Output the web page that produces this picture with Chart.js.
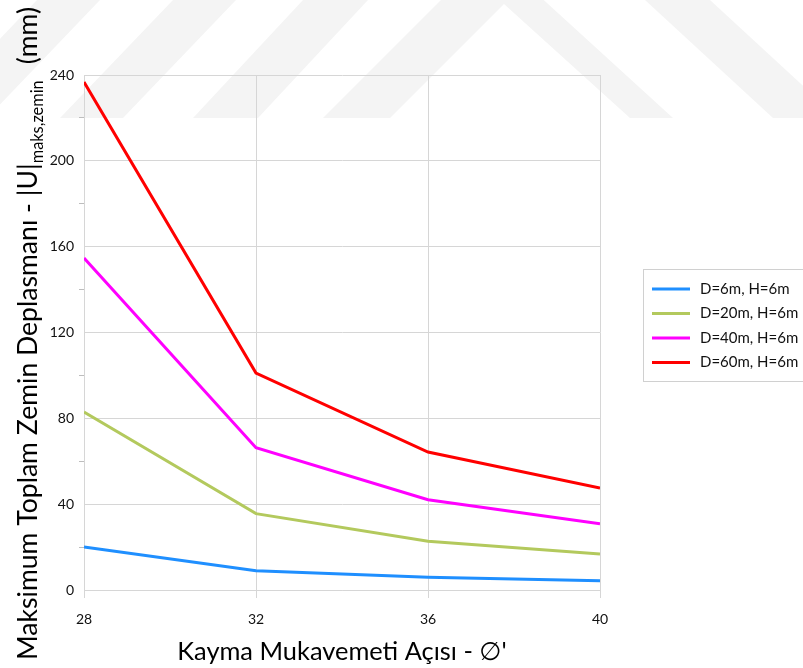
<!DOCTYPE html>
<html>
<head>
<meta charset="utf-8">
<script src="https://cdn.jsdelivr.net/npm/chart.js@4"></script>
<style>
  body { margin: 0; background: #fff; }
  #wrap { width: 803px; height: 668px; position: relative; }
</style>
</head>
<body>
<div id="wrap"><canvas id="graph"></canvas></div>
<script>
// values
const angles = [28, 32, 36, 40];
const d6 = [20.0, 9.0, 5.9, 4.3];
const d20 = [82.9, 35.6, 22.7, 16.8];
const d40 = [154.7, 66.3, 42.1, 30.9];
const d60 = [236.7, 101.1, 64.3, 47.5];
const seriesLabels = ['D=6m, H=6m', 'D=20m, H=6m', 'D=40m, H=6m', 'D=60m, H=6m'];
const seriesColors = ['#1f8fff', '#b3c95d', '#ff00ff', '#ff0000'];
const yTicks = [0, 40, 80, 120, 160, 200, 240];
const xTitle = "Kayma Mukavemeti Açısı - ∅'";
const yTitle = ['Maksimum Toplam Zemin Deplasmanı - |U|', 'maks,zemin', '(mm)'];

const FONT = 'Lato, "DejaVu Sans", sans-serif';
Chart.defaults.font.family = FONT;
Chart.defaults.color = '#111';

const gridGray = '#d6d6d6';

function toPoints(vals) {
    return vals.map((v, i) => ({x: angles[i], y: v}));
}

// size the x title so it spans about the same width as the reference
const measureCtx = document.createElement('canvas').getContext('2d');
measureCtx.font = '100px ' + FONT;
const xTitleSize = Math.round(330 / measureCtx.measureText(xTitle).width * 100 * 10) / 10;

const extras = {
    id: 'extras',
    beforeDraw(chart) {
        // faint watermark in the background
        const ctx = chart.ctx;
        const shapes = [
            [[37, 0], [100, 0], [-13, 118], [-76, 118]],
            [[173, 0], [236, 0], [123, 118], [60, 118]],
            [[303, 0], [368, 0], [258, 118], [193, 118]],
            [[323, 118], [490, -49], [673, 118], [630, 118], [504, 4], [390, 118]],
            [[645, 0], [710, 0], [838, 118], [773, 118]]
        ];
        ctx.save();
        ctx.fillStyle = '#f4f4f4';
        shapes.forEach(s => {
            ctx.beginPath();
            s.forEach((p, i) => i ? ctx.lineTo(p[0], p[1]) : ctx.moveTo(p[0], p[1]));
            ctx.closePath();
            ctx.fill();
        });
        ctx.restore();
    },
    afterDraw(chart) {
        const ctx = chart.ctx;

        // legend box
        ctx.save();
        ctx.strokeStyle = '#d0d0d0';
        ctx.lineWidth = 1;
        ctx.strokeRect(643.5, 269.5, 200, 112);
        ctx.font = '15px ' + FONT;
        ctx.textBaseline = 'middle';
        ctx.fillStyle = '#111';
        chart.data.datasets.forEach((ds, i) => {
            const y = 289 + i * 24.5;
            ctx.strokeStyle = ds.borderColor;
            ctx.lineWidth = 3;
            ctx.beginPath();
            ctx.moveTo(652, y);
            ctx.lineTo(690, y);
            ctx.stroke();
            ctx.fillText(ds.label, 700, y);
        });
        ctx.restore();

        // y title with subscript
        ctx.save();
        ctx.translate(37, 660);
        ctx.rotate(-Math.PI / 2);
        ctx.fillStyle = '#000';
        ctx.textBaseline = 'alphabetic';
        const big = 26, small = 16;
        ctx.font = big + 'px ' + FONT;
        const w1 = ctx.measureText(yTitle[0]).width;
        const w3 = ctx.measureText(yTitle[2]).width;
        ctx.font = small + 'px ' + FONT;
        const w2 = ctx.measureText(yTitle[1]).width;
        const gap = big * 0.6;
        const k = 653 / (w1 + w2 + gap + w3);
        ctx.font = (big * k) + 'px ' + FONT;
        ctx.fillText(yTitle[0], 0, 0);
        ctx.font = (small * k) + 'px ' + FONT;
        ctx.fillText(yTitle[1], w1 * k, 6);
        ctx.font = (big * k) + 'px ' + FONT;
        ctx.fillText(yTitle[2], (w1 + w2 + gap) * k, 0);
        ctx.restore();
    }
};

new Chart(
    document.querySelector('#graph'),
{
    type: 'line',
    data: {
        datasets: [d6, d20, d40, d60].map((vals, i) => ({
            label: seriesLabels[i],
            data: toPoints(vals),
            borderColor: seriesColors[i],
            backgroundColor: seriesColors[i],
            borderWidth: 3,
            pointRadius: 0,
            tension: 0,
            fill: false
        }))
    },
    options: {
        responsive: true,
        maintainAspectRatio: false,
        animation: false,
        layout: {
            padding: {top: 75, right: 203, bottom: 0, left: 0}
        },
        plugins: {
            legend: {display: false},
            tooltip: {enabled: false}
        },
        scales: {
            x: {
                type: 'linear',
                min: 28,
                max: 40,
                afterFit(s) { s.height = 78; },
                afterBuildTicks(s) { s.ticks = angles.map(v => ({value: v})); },
                border: {color: gridGray},
                grid: {color: gridGray, tickColor: gridGray, tickLength: 8},
                ticks: {font: {size: 14}, padding: 13, color: '#111'},
                title: {
                    display: true,
                    text: xTitle,
                    font: {size: xTitleSize},
                    color: '#000',
                    padding: {top: 0, bottom: 1}
                }
            },
            y: {
                type: 'linear',
                min: 0,
                max: 240,
                afterFit(s) { s.width = 84; },
                ticks: {
                    stepSize: 20,
                    font: {size: 14},
                    padding: 5,
                    color: '#111',
                    callback: v => yTicks.includes(v) ? v : ''
                },
                border: {color: gridGray},
                grid: {
                    color: c => yTicks.includes(c.tick.value) ? gridGray : 'rgba(0,0,0,0)',
                    tickColor: c => yTicks.includes(c.tick.value) ? 'rgba(0,0,0,0)' : '#bdbdbd',
                    tickLength: 5
                }
            }
        }
    },
    plugins: [extras]
});
</script>
</body>
</html>
